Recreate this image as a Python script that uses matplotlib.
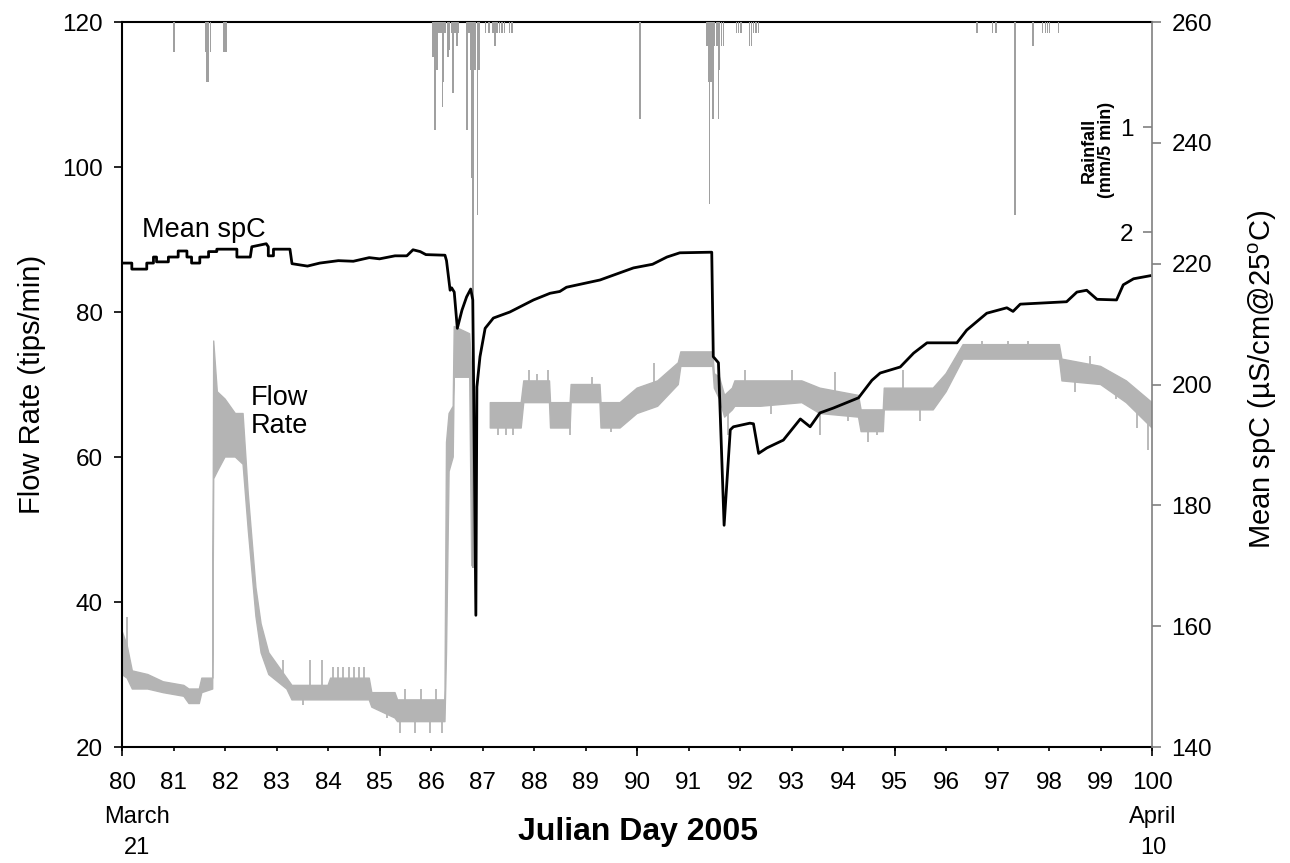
import numpy as np
import matplotlib
matplotlib.use("Agg")
import matplotlib.pyplot as plt

plt.rcParams['font.family'] = ['Liberation Sans', 'DejaVu Sans']
plt.rcParams['mathtext.fontset'] = 'custom'
plt.rcParams['mathtext.rm'] = 'Liberation Sans'

# flow rate band (tips/min): day, low edge, high edge
flow_day = [80.0, 80.1, 80.2, 80.5, 80.8, 81.2, 81.3, 81.5, 81.55, 81.76,
            81.78, 81.85, 82.0, 82.2, 82.35, 82.45, 82.6, 82.7, 82.85, 83.2,
            83.3, 84.0, 84.05, 84.8, 84.85, 85.3, 85.35, 86.27, 86.3, 86.35,
            86.43, 86.45, 86.75, 86.79, 86.8, 87.14, 87.15, 87.75, 87.8, 88.3,
            88.32, 88.7, 88.72, 89.28, 89.3, 89.67, 90.0, 90.4, 90.8, 90.85,
            91.47, 91.5, 91.6, 91.7, 91.85, 91.9, 92.4, 93.2, 93.55, 94.3,
            94.35, 94.78, 94.8, 95.75, 96.0, 96.33, 98.2, 98.25, 99.0, 99.5,
            100.0]
flow_lo = [30, 29.5, 28, 28, 27.5, 27, 26, 26, 27.5, 28,
           57, 58, 60, 60, 59, 50, 38, 33, 30, 28,
           26.5, 26.5, 26.5, 26.5, 25.5, 24, 23.5, 23.5, 33, 58,
           60, 71, 71, 45, np.nan, np.nan, 64, 64, 67.5, 67.5,
           64, 64, 67.5, 67.5, 64, 64, 66, 67, 70, 72.5,
           72.5, 69.5, 68, 65.5, 66.5, 67, 67, 67.5, 66, 65.5,
           63.5, 63.5, 66.5, 66.5, 69, 73.5, 73.5, 70.5, 70, 67.5,
           64]
flow_hi = [36, 34, 30.5, 30, 29, 28.5, 28, 28, 29.5, 29.5,
           76, 69, 68, 66, 66, 55, 42, 37, 33, 29.5,
           28.5, 28.5, 29.5, 29.5, 27.5, 27.5, 26.5, 26.5, 62, 66,
           67, 78, 77, 72, np.nan, np.nan, 67.5, 67.5, 70.5, 70.5,
           67.5, 67.5, 70, 70, 67.5, 67.5, 69.5, 70.5, 73, 74.5,
           74.5, 71.5, 71, 68.5, 69.5, 70.5, 70.5, 70.5, 69.5, 68.5,
           66.5, 66.5, 69.5, 69.5, 71.5, 75.5, 75.5, 73.5, 72.5, 70.5,
           67.5]
# single readings that stick out of the band
spike_day = [80.1, 83.13, 83.52, 83.65, 83.88, 84.1, 84.2, 84.3, 84.4, 84.5,
             84.6, 84.7, 85.14, 85.4, 85.5, 85.69, 85.8, 85.98, 86.1, 86.21,
             87.3, 87.45, 87.6, 87.9, 88.05, 88.27, 88.5, 88.7, 89.12, 89.5,
             90.32, 90.6, 91.0, 91.77, 92.1, 92.6, 93.0, 93.55, 93.85, 94.1,
             94.49, 94.65, 95.17, 95.5, 96.7, 97.2, 97.6, 98.5, 98.8, 99.3,
             99.7, 99.93]
spike_val = [38, 32, 25.8, 32, 32, 31, 31, 31, 31, 31,
             31, 31, 24, 21.9, 28, 21.9, 28, 21.9, 28, 21.9,
             63, 63, 63, 72, 71.5, 72, 64, 63, 71, 63.5,
             73, 71.5, 74.5, 63, 72, 66, 72, 63, 71.7, 65,
             62.1, 63, 72, 65, 76, 76, 76, 69, 74, 68,
             64, 61]

# mean specific conductance (uS/cm @ 25 C)
spc_day = [80.0, 80.19, 80.19, 80.48, 80.48, 80.61, 80.61, 80.67, 80.67, 80.9,
           80.9, 81.09, 81.09, 81.26, 81.26, 81.35, 81.35, 81.51, 81.51, 81.68,
           81.68, 81.84, 81.84, 82.23, 82.23, 82.49, 82.52, 82.8, 82.84, 82.84,
           82.94, 82.94, 83.26, 83.3, 83.6, 83.84, 84.2, 84.49, 84.8, 85.0,
           85.3, 85.53, 85.65, 85.79, 85.9, 86.27, 86.3, 86.37, 86.4, 86.45,
           86.51, 86.6, 86.69, 86.77, 86.81, 86.83, 86.87, 86.89, 86.95, 87.05,
           87.21, 87.53, 87.99, 88.31, 88.5, 88.63, 89.28, 89.93, 90.3, 90.58,
           90.83, 91.45, 91.48, 91.58, 91.69, 91.81, 91.87, 92.19, 92.26, 92.36,
           92.52, 92.84, 93.17, 93.36, 93.55, 93.81, 94.3, 94.56, 94.72, 95.11,
           95.37, 95.63, 96.21, 96.4, 96.79, 97.18, 97.3, 97.44, 98.34, 98.54,
           98.73, 98.93, 99.31, 99.44, 99.64, 99.96]
spc_val = [220.1, 220.1, 219.1, 219.1, 220.1, 220.1, 221.1, 221.1, 220.3, 220.3,
           221.1, 221.1, 222.1, 222.1, 221.1, 221.1, 220.1, 220.1, 221.1, 221.1,
           222.0, 222.0, 222.4, 222.4, 221.1, 221.1, 222.8, 223.3, 222.8, 221.3,
           221.3, 222.4, 222.4, 220.0, 219.6, 220.1, 220.5, 220.4, 221.0, 220.8,
           221.3, 221.3, 222.3, 222.0, 221.5, 221.4, 220.5, 215.6, 216.0, 215.3,
           209.3, 212.3, 214.5, 215.8, 214.0, 197.4, 161.8, 199.6, 204.6, 209.3,
           211.0, 212.0, 214.0, 215.1, 215.4, 216.1, 217.3, 219.3, 219.9, 221.1,
           221.8, 221.9, 204.6, 203.6, 176.7, 192.5, 193.0, 193.6, 193.5, 188.6,
           189.5, 190.8, 194.3, 193.0, 195.3, 196.1, 197.8, 200.7, 201.9, 202.9,
           205.2, 206.9, 206.9, 209.0, 211.8, 212.7, 212.1, 213.3, 213.7, 215.3,
           215.6, 214.1, 214.0, 216.5, 217.5, 218.0]

# rainfall (mm/5 min)
rain_day = [81.01, 81.62, 81.65, 81.68, 81.72, 81.98, 82.02,
            86.04, 86.06, 86.08, 86.12, 86.15, 86.19, 86.22, 86.24, 86.27,
            86.33, 86.36, 86.40, 86.43, 86.47, 86.50, 86.53,
            86.70, 86.74, 86.77, 86.79, 86.81, 86.83, 86.86, 86.90, 86.93,
            87.06, 87.13, 87.20, 87.24, 87.28, 87.33, 87.38, 87.43, 87.52, 87.57,
            90.06,
            91.36, 91.39, 91.41, 91.44, 91.47, 91.50, 91.55, 91.58, 91.60, 91.64, 91.68,
            91.93, 91.97, 92.02, 92.18, 92.22, 92.26, 92.31, 92.36,
            96.60, 96.90, 96.97, 97.34, 97.69, 97.87, 97.93, 97.97, 98.01, 98.18]
rain_mm = [0.29, 0.29, 0.57, 0.57, 0.29, 0.29, 0.29,
           0.33, 0.10, 1.03, 0.46, 0.10, 0.10, 0.81, 0.57, 0.10,
           0.33, 0.27, 0.10, 0.68, 0.10, 0.23, 0.10,
           1.03, 0.10, 0.46, 1.49, 5.20, 0.46, 0.46, 1.84, 0.46,
           0.10, 0.10, 0.10, 0.23, 0.10, 0.10, 0.10, 0.10, 0.10, 0.10,
           0.92,
           0.23, 0.57, 1.73, 0.57, 0.92, 0.23, 0.23, 0.92, 0.46, 0.23, 0.23,
           0.10, 0.10, 0.10, 0.23, 0.23, 0.10, 0.10, 0.10,
           0.10, 0.10, 0.10, 1.84, 0.23, 0.10, 0.10, 0.10, 0.10, 0.10]

fig = plt.figure(figsize=(12.9, 8.63), dpi=100)
ax = fig.add_axes([0.0946, 0.1344, 0.7985, 0.8401])
ax2 = ax.twinx()
ax3 = ax.twinx()
ax.set_zorder(1)
ax3.set_zorder(2)
ax2.set_zorder(3)
ax2.patch.set_visible(False)
ax3.patch.set_visible(False)

gray = '#b4b4b4'
fd = np.array(flow_day)
lo = np.array(flow_lo, dtype=float)
hi = np.array(flow_hi, dtype=float)
ok = ~np.isnan(lo)
ax.fill_between(fd, lo, hi, where=ok, color=gray, lw=1.0, edgecolor=gray)
mid = np.interp(spike_day, fd[ok], ((lo + hi) / 2)[ok])
ax.vlines(spike_day, mid, spike_val, color=gray, lw=1.3)

ax2.plot(spc_day, spc_val, color='black', lw=2.0)

ax3.bar(rain_day, rain_mm, width=0.03, color='#a0a0a0', align='center')

ax.set_xlim(80, 100)
ax.set_ylim(20, 120)
ax2.set_ylim(140, 260)
ax3.set_ylim(6.905, 0)

ax.set_xticks(range(80, 101))
ax.set_xticks(range(80, 101, 5), minor=True)
ax.xaxis.remove_overlapping_locs = False
ax.tick_params(axis='x', which='major', length=2.9, width=1.2, pad=15, labelsize=17.5)
ax.tick_params(axis='x', which='minor', length=6.5, width=1.2)
ax.set_yticks(range(20, 121, 20))
ax.tick_params(axis='y', length=5.8, width=1.2, pad=8, labelsize=17.5)

ax2.set_yticks(range(140, 261, 20))
ax2.tick_params(axis='y', length=6.5, width=1.2, pad=7.5, labelsize=17.5, color='#808080')

ax3.yaxis.set_ticks_position('left')
ax3.spines['left'].set_position(('axes', 1.0))
ax3.set_yticks([1, 2])
ax3.tick_params(axis='y', length=6.5, width=1.2, pad=7, labelsize=17.5, color='#808080')
for s in ax3.spines.values():
    s.set_visible(False)

for s in ['left', 'bottom', 'top']:
    ax.spines[s].set_linewidth(1.5)
ax.spines['right'].set_visible(False)
for s in ['left', 'bottom', 'top']:
    ax2.spines[s].set_visible(False)
ax2.spines['right'].set_color('#808080')
ax2.spines['right'].set_linewidth(1.2)

fig.text(0.0248, 0.555, 'Flow Rate (tips/min)', fontsize=21, rotation=90,
         ha='center', va='center')
fig.text(0.979, 0.56, 'Mean spC (µS/cm@25$^{\\mathrm{o}}$C)', fontsize=21, rotation=90,
         ha='center', va='center')
fig.text(0.4946, 0.036, 'Julian Day 2005', fontsize=23, fontweight='bold',
         ha='center', va='center')

fig.text(0.1062, 0.0533, 'March', fontsize=17, ha='center', va='center')
fig.text(0.1062, 0.0174, '21', fontsize=17, ha='center', va='center')
fig.text(0.8938, 0.0533, 'April', fontsize=17, ha='center', va='center')
fig.text(0.8938, 0.0174, '10', fontsize=17, ha='center', va='center')

ax.text(80.39, 90.3, 'Mean spC', fontsize=19.5, ha='left', va='baseline')
ax.text(82.49, 70.0, 'Flow\nRate', fontsize=19.5, ha='left', va='top', linespacing=1.1)
ax3.text(98.95, 1.22, 'Rainfall\n(mm/5 min)', fontsize=13, fontweight='bold',
         rotation=90, ha='center', va='center', linespacing=1.0)

fig.savefig('out.png', dpi=100)
